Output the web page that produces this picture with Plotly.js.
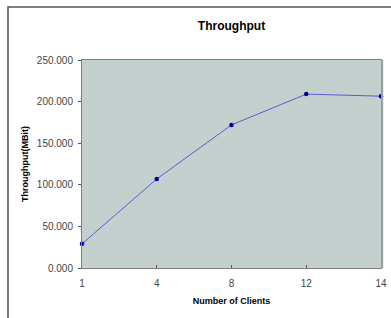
<!DOCTYPE html>
<html><head><meta charset="utf-8">
<script src="https://cdn.plot.ly/plotly-3.0.1.min.js"></script>
<style>html,body{margin:0;padding:0;background:#fff;}#c{width:391px;height:318px;}</style>
</head><body><div id="c"></div>
<script>
const clients = ['1','4','8','12','14'];
const throughput = [29, 107, 172, 209, 206.5];
const yTicks = [0, 50, 100, 150, 200, 250];

const trace = {
  x: clients, y: throughput, type: 'scatter', mode: 'lines+markers',
  line: {color: '#5a5ad8', width: 1},
  marker: {color: '#00009a', size: 4.5},
  cliponaxis: false, hoverinfo: 'none'
};
const layout = {
  width: 391, height: 318,
  margin: {l: 82, r: 10, t: 60, b: 50},
  paper_bgcolor: '#ffffff', plot_bgcolor: '#c3d0cd',
  showlegend: false,
  font: {family: 'Liberation Sans, Arial, sans-serif', size: 10, color: '#222'},
  title: {text: '<b>Throughput</b>', x: 0.5, xref: 'paper', xanchor: 'center', y: 0.92, yanchor: 'middle',
          font: {size: 12, color: '#000'}},
  xaxis: {
    type: 'category', range: [0, 4], showgrid: false, zeroline: false,
    showline: true, mirror: true, linecolor: '#808080', linewidth: 1,
    ticks: 'inside', ticklen: 3, tickcolor: '#555', ticklabelstandoff: 6,
    tickfont: {size: 10, color: '#444'},
    title: {text: '<b>Number of Clients</b>', font: {size: 9, color: '#000'}, standoff: 9}
  },
  yaxis: {
    range: [0, 250], tickvals: yTicks, tickformat: '.3f', showgrid: false, zeroline: false,
    showline: true, mirror: true, linecolor: '#808080', linewidth: 1,
    ticks: 'outside', ticklen: 3, tickcolor: '#555', ticklabelstandoff: 3,
    tickfont: {size: 10, color: '#444'},
    title: {text: '<b>Throughput(MBit)</b>', font: {size: 9, color: '#000'}, standoff: 6}
  },
  shapes: [
    {type: 'rect', xref: 'paper', yref: 'paper', x0: -0.2475, x1: 1.2, y0: -0.3, y1: 1.2548,
     line: {color: '#555', width: 1.5}, fillcolor: 'rgba(0,0,0,0)', layer: 'below'},
    {type: 'line', xref: 'paper', yref: 'paper', x0: 1.004, x1: 1.004, y0: 0, y1: 1,
     line: {color: '#9aa5a3', width: 2}}
  ]
};
Plotly.newPlot('c', [trace], layout, {staticPlot: true, displayModeBar: false});
</script></body></html>
